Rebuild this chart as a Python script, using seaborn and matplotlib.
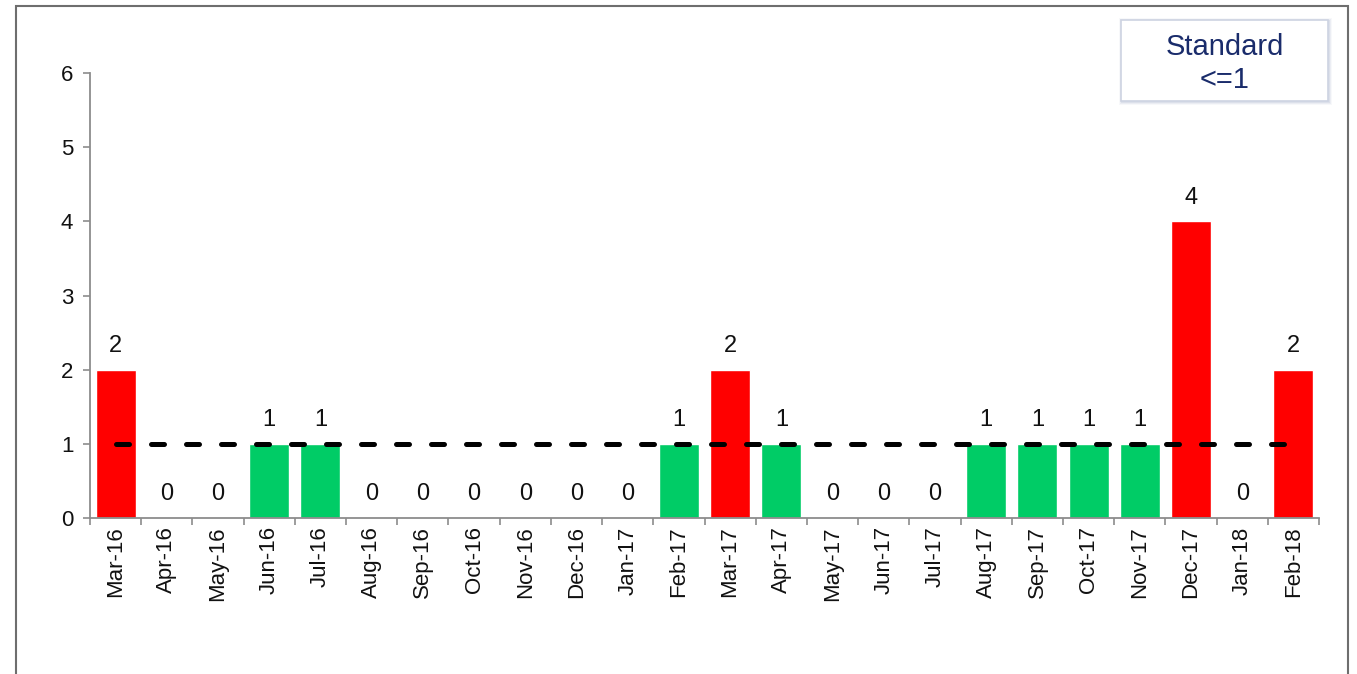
import numpy as np
import pandas as pd
import matplotlib
matplotlib.use("Agg")
import matplotlib.pyplot as plt
from matplotlib.patches import Rectangle
import seaborn as sns

# datos
meses = ["Mar-16", "Apr-16", "May-16", "Jun-16", "Jul-16", "Aug-16", "Sep-16", "Oct-16",
         "Nov-16", "Dec-16", "Jan-17", "Feb-17", "Mar-17", "Apr-17", "May-17", "Jun-17",
         "Jul-17", "Aug-17", "Sep-17", "Oct-17", "Nov-17", "Dec-17", "Jan-18", "Feb-18"]
valores = [2, 0, 0, 1, 1, 0, 0, 0, 0, 0, 0, 1, 2, 1, 0, 0, 0, 1, 1, 1, 1, 4, 0, 2]
estandar = 1
y_ticks = [0, 1, 2, 3, 4, 5, 6]

ROJO = "#FF0000"
VERDE = "#00CC66"

sns.set_style("white")
plt.rcParams['font.family'] = ['Liberation Sans', 'DejaVu Sans']

df = pd.DataFrame({"Mes": meses, "Valor": valores})
colores = {m: (ROJO if v > estandar else VERDE) for m, v in zip(meses, valores)}

fig = plt.figure(figsize=(13.57, 6.74), dpi=100)
ax = fig.add_axes([90/1357, 1 - 518/674, (1319-90)/1357, (518-73)/674])

sns.barplot(data=df, x="Mes", y="Valor", hue="Mes", palette=colores,
            legend=False, width=0.78, ax=ax, saturation=1)

# numeros arriba de cada barra
for c in ax.containers:
    ax.bar_label(c, fmt="%d", fontsize=17, padding=9, color="#111111")

# linea del estandar
ax.plot(range(len(meses)), [estandar] * len(meses), color="black", lw=3.6,
        ls=(0, (2.6, 4.4)), dash_capstyle="round", zorder=5)

ax.set_xlim(-0.5, len(meses) - 0.5)
ax.set_ylim(0, 6)
ax.set_yticks(y_ticks)
ax.set_xlabel("")
ax.set_ylabel("")

sns.despine(ax=ax)
for s in ["left", "bottom"]:
    ax.spines[s].set_color("#8C8C8C")
    ax.spines[s].set_linewidth(1.3)

ax.set_xticks(range(len(meses)))
ax.set_xticklabels(meses, rotation=90, fontsize=16, color="#111111")
ax.set_xticks(np.arange(-0.5, len(meses)), minor=True)
ax.tick_params(axis="x", which="major", length=0, pad=6)
ax.tick_params(axis="x", which="minor", length=5, width=1.2, color="#8C8C8C", direction="out", bottom=True)
ax.tick_params(axis="y", length=5, width=1.2, color="#8C8C8C", direction="out", left=True,
               labelsize=16, labelcolor="#111111", pad=7)

# marco exterior
fig.patches.append(Rectangle((16/1357, -0.01), (1348-16)/1357, 1.01 - 6/674, transform=fig.transFigure,
                             fill=False, edgecolor="#6E6E6E", lw=1.5, zorder=0))

# caja del estandar (con sombra suave)
x0, y0, w, h = 1121/1357, 1 - 101/674, 207/1357, 81/674
for i, a in enumerate([0.10, 0.18, 0.28]):
    d = (3 - i)
    fig.patches.append(Rectangle((x0 - d/1357 + 1/1357, y0 - d/674 - 1/674), w + 2*d/1357, h + 2*d/674,
                                 transform=fig.transFigure, facecolor="#B8C0D4", alpha=a,
                                 edgecolor="none", zorder=1))
fig.patches.append(Rectangle((x0, y0), w, h, transform=fig.transFigure,
                             facecolor="white", edgecolor="#CDD3E2", lw=1.2, zorder=2))
fig.text(x0 + w / 2, y0 + h / 2 - 3/674, "Standard\n<=1", ha="center", va="center",
         fontsize=21, color="#1A2C6B", linespacing=1.25, zorder=3)

plt.savefig("out.png", dpi=100)
